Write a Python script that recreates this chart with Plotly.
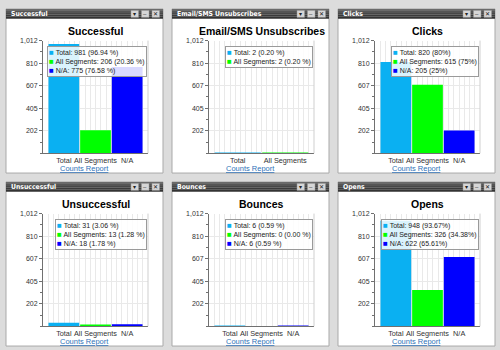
import plotly.graph_objects as go

# ---------------- data ----------------
panel_titles = ["Successful", "Email/SMS Unsubscribes", "Clicks",
                "Unsuccessful", "Bounces", "Opens"]
cats3 = ["Total", "All Segments", "N/A"]
cats2 = ["Total", "All Segments"]

successful_vals = [981, 206, 775]
successful_pct = ["96.94 %", "20.36 %", "76.58 %"]
unsub_vals = [2, 2]
unsub_pct = ["0.20 %", "0.20 %"]
clicks_vals = [820, 615, 205]
clicks_pct = ["80%", "75%", "25%"]
unsucc_vals = [31, 13, 18]
unsucc_pct = ["3.06 %", "1.28 %", "1.78 %"]
bounces_vals = [6, 0, 6]
bounces_pct = ["0.59 %", "0.00 %", "0.59 %"]
opens_vals = [948, 326, 622]
opens_pct = ["93.67%", "34.38%", "65.61%"]

y_max = 1012
y_tickvals = [202.4, 404.8, 607.2, 809.6, 1012]
y_ticktext = ["202", "405", "607", "810", "1,012"]
link_text = "Counts Report"

cat_colors = {"Total": "#0AB0F2", "All Segments": "#00FF00", "N/A": "#0000FF"}

panels = [
    (panel_titles[0], cats3, successful_vals, successful_pct),
    (panel_titles[1], cats2, unsub_vals, unsub_pct),
    (panel_titles[2], cats3, clicks_vals, clicks_pct),
    (panel_titles[3], cats3, unsucc_vals, unsucc_pct),
    (panel_titles[4], cats3, bounces_vals, bounces_pct),
    (panel_titles[5], cats3, opens_vals, opens_pct),
]

W, H = 500, 350
FONT = "Liberation Sans, Arial, sans-serif"


def px(x):
    return x / W


def py(y):
    return 1 - y / H


fig = go.Figure()
shapes = []
annotations = []
layout_axes = {}

for k, (title, cats, vals, pcts) in enumerate(panels):
    c, r = k % 3, k // 3
    L = 6 + 166 * c
    T = 5 + 175 * r
    idx = "" if k == 0 else str(k + 1)
    xa, ya = "x" + idx, "y" + idx
    n = len(cats)

    # panel frame
    shapes.append(dict(type="rect", xref="paper", yref="paper", layer="below",
                       x0=px(L), x1=px(L + 157), y0=py(T + 166), y1=py(T),
                       fillcolor="white", line=dict(color="#a9a9a9", width=1)))
    # header bar (approximate gradient with stripes)
    for j, col in enumerate(["#6a6a6a", "#555555", "#474747", "#3b3b3b", "#333333"]):
        shapes.append(dict(type="rect", xref="paper", yref="paper", layer="below",
                           x0=px(L), x1=px(L + 157),
                           y0=py(T + 2 * (j + 1) if j < 4 else T + 10), y1=py(T + 2 * j),
                           fillcolor=col, line=dict(width=0)))
    annotations.append(dict(xref="paper", yref="paper", x=px(L + 3), y=py(T + 5),
                            xanchor="left", yanchor="middle", showarrow=False,
                            text="<b>" + title + "</b>",
                            font=dict(family="DejaVu Sans Condensed, " + FONT, size=6.8, color="white")))
    # header buttons
    glyphs = ["▾", "–", "✕"]
    for j, bx in enumerate([L + 125, L + 135.5, L + 146]):
        shapes.append(dict(type="rect", xref="paper", yref="paper", layer="below",
                           x0=px(bx), x1=px(bx + 7.5), y0=py(T + 8.5), y1=py(T + 1.5),
                           fillcolor="#d6d6d6", line=dict(color="#999999", width=0.5)))
        annotations.append(dict(xref="paper", yref="paper", x=px(bx + 3.75), y=py(T + 5),
                                xanchor="center", yanchor="middle", showarrow=False,
                                text=glyphs[j], font=dict(family=FONT, size=6, color="#222")))

    # axes domains
    x0d, x1d = px(L + 37), px(L + 142)
    y0d, y1d = py(T + 146), py(T + 32)
    pad = 5.0 * n / 95.0
    layout_axes["xaxis" + idx] = dict(
        domain=[x0d, x1d], anchor=ya, range=[-0.5 - pad, n - 0.5 + pad],
        tickmode="array", tickvals=list(range(n)), ticktext=cats, tickangle=0,
        showgrid=False, zeroline=False, showline=True, linecolor="#707070", linewidth=1,
        ticks="", tickfont=dict(family=FONT, size=7.3, color="#333"),
        minor=dict(showgrid=True, gridcolor="#e9e9e9", gridwidth=1,
                   tick0=-0.5 - pad, dtick=(n + 2 * pad) / 20.0, ticks=""),
        fixedrange=True)
    layout_axes["yaxis" + idx] = dict(
        domain=[y0d, y1d], anchor=xa, range=[0, y_max],
        tickmode="array", tickvals=y_tickvals, ticktext=y_ticktext,
        ticks="outside", ticklen=3, tickcolor="#707070",
        showgrid=True, gridcolor="#e9e9e9", gridwidth=1,
        minor=dict(ticks="outside", ticklen=2, tickcolor="#707070",
                   tick0=0, dtick=y_max / 10.0, showgrid=False),
        zeroline=False, showline=True, linecolor="#707070", linewidth=1,
        tickfont=dict(family=FONT, size=7, color="#333"), fixedrange=True)

    # plot right border
    shapes.append(dict(type="line", xref=xa + " domain", yref=ya + " domain",
                       x0=1, x1=1, y0=0, y1=1, line=dict(color="#cfcfcf", width=1)))

    # bars
    for i, cat in enumerate(cats):
        fig.add_trace(go.Bar(x=[i], y=[vals[i]], width=0.97, name=cat,
                             marker=dict(color=cat_colors[cat], line=dict(width=0)),
                             xaxis=xa, yaxis=ya, showlegend=False))

    # title
    annotations.append(dict(xref=xa + " domain", yref="paper", x=0.5, y=py(T + 22),
                            xanchor="center", yanchor="middle", showarrow=False,
                            text="<b>" + title + "</b>",
                            font=dict(family=FONT, size=10.5, color="#000")))
    # legend box
    rows = []
    for i, cat in enumerate(cats):
        rows.append('<span style="color:%s;font-size:8px">■</span> %s: %d (%s)'
                    % (cat_colors[cat], cat, vals[i], pcts[i]))
    annotations.append(dict(xref=xa + " domain", yref=ya + " domain",
                            x=0.99, y=1 - 5 / 114.0, xanchor="right", yanchor="top",
                            showarrow=False, align="left", text="<br>".join(rows),
                            font=dict(family=FONT, size=7, color="#222"),
                            bgcolor="rgba(255,255,255,0.85)", bordercolor="#9a9a9a",
                            borderwidth=1, borderpad=1))
    # link
    annotations.append(dict(xref="paper", yref="paper", x=px(L + 78.5), y=py(T + 161),
                            xanchor="center", yanchor="middle", showarrow=False,
                            text="<u>" + link_text + "</u>",
                            font=dict(family=FONT, size=7.5, color="#2f72b8")))

fig.update_layout(
    width=W, height=H, margin=dict(l=0, r=0, t=0, b=0),
    paper_bgcolor="#dcdcdc", plot_bgcolor="white",
    barmode="overlay", showlegend=False,
    shapes=shapes, annotations=annotations, **layout_axes)

fig.write_html("out.html", config={"displayModeBar": False})
